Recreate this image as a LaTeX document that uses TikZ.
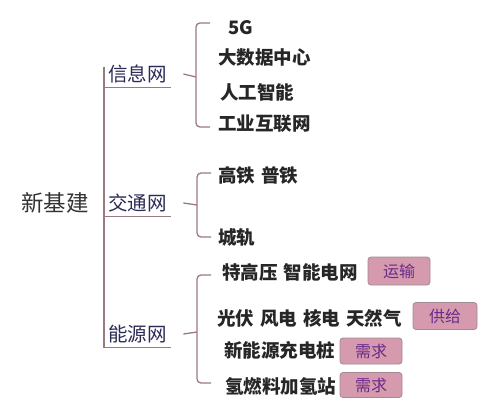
\documentclass[tikz,border=0pt]{standalone}
\usepackage{fontspec}
\newfontfamily\cjk{Noto Sans CJK SC}
\usetikzlibrary{positioning}
\definecolor{linecol}{HTML}{9A7A82}
\definecolor{netcol}{HTML}{2A2A55}
\definecolor{tagfill}{HTML}{D69AAE}
\definecolor{tagline}{HTML}{A08A94}
\definecolor{tagtext}{HTML}{6A2A8A}
\newcommand{\gap}{\hspace{6pt}}

\begin{document}
\begin{tikzpicture}[x=1pt,y=-1pt,
  rule/.style={draw=linecol, line width=1.3pt},
  brace/.style={rule, rounded corners=4pt},
  item/.style={anchor=west, inner sep=0pt, text=black!85,
    font=\cjk\bfseries\fontsize{18.5}{19}\selectfont},
  net/.style={anchor=west, inner sep=0pt, minimum width=67pt,
    minimum height=26pt, text=netcol, font=\cjk\fontsize{19.5}{20}\selectfont},
  tag/.style={draw=tagline, fill=tagfill, rounded corners=3pt, text=tagtext,
    line width=0.8pt, minimum width=62pt, minimum height=26pt, inner sep=0pt,
    font=\cjk\fontsize{16}{16}\selectfont}]
\useasboundingbox (0,0) rectangle (500,402);

% root and the three nets
\node[name=root, text=black!80, font=\cjk\fontsize{22.5}{23}\selectfont] at (55,203) {新基建};
\node[name=xinxi, net] at (104,74) {信息网};
\node[name=jiaotong, net] at (104,203) {交通网};
\node[name=nengyuan, net] at (104,334) {能源网};
\coordinate (trunk_top) at (104,67);

\draw[rule] (trunk_top) -- (nengyuan.south west) -- (nengyuan.south east);
\draw[rule] (xinxi.south west) -- (xinxi.south east);
\draw[rule] (jiaotong.south west) -- (jiaotong.south east);

% information
\node[name=i_5g, item] at (228,28) {5G};
\node[name=i_data, item] at (218,58) {大数据中心};
\node[name=i_ai, item] at (220,92) {人工智能};
\node[name=i_iot, item] at (218,124) {工业互联网};
\draw[rule] ([xshift=12pt]xinxi.east) -- (196,77);
\draw[brace] (210,23) -- (196,23) -- (196,127) -- (210,127);

% traffic
\node[name=t_rail, item] at (218,175) {高铁\gap 普铁};
\node[name=t_city, item] at (218,237) {城轨};
\draw[rule] ([xshift=12pt]jiaotong.east) -- (197,205);
\draw[brace] (211,173) -- (197,173) -- (197,237) -- (211,237);

% energy
\node[name=e_grid, item] at (222,272) {特高压\gap 智能电网};
\node[name=e_gen, item] at (217,318) {光伏\gap 风电\gap 核电\gap 天然气};
\node[name=e_ev, item] at (224,350) {新能源充电桩};
\node[name=e_h2, item] at (225,386) {氢燃料加氢站};
\draw[rule] ([xshift=12pt]nengyuan.east) -- (197,332);
\draw[brace] (211,275) -- (197,275) -- (197,383) -- (211,383);

\node[name=tag_grid, tag, minimum height=28pt] at (399,271) {运输};
\node[name=tag_gen, tag, minimum width=64pt, minimum height=27pt] at (445,316) {供给};
\node[name=tag_ev, tag] at (371,351) {需求};
\node[name=tag_h2, tag, minimum height=25pt] at (371,385) {需求};
\end{tikzpicture}
\end{document}
